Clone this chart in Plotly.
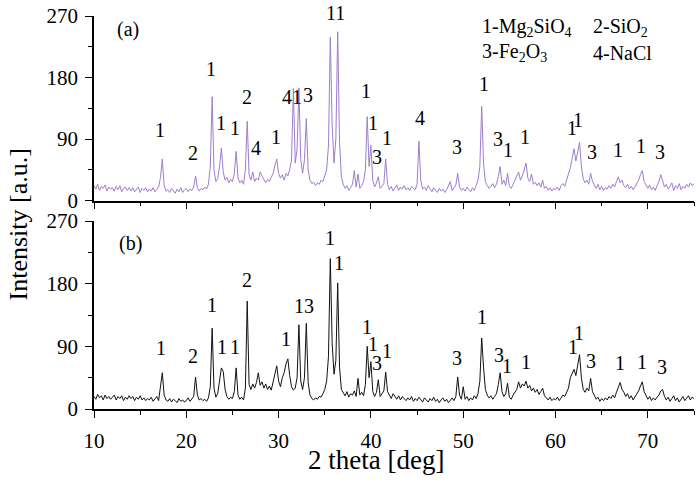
import plotly.graph_objects as go

# XRD scan grid: start 10 deg, step 0.2 deg (326 points up to 75 deg)
scan_start = 10.0
scan_step = 0.2

intensity_a = [
    22, 17, 24, 15, 21, 18, 23, 14, 20, 17,
    19, 14, 21, 16, 22, 13, 18, 20, 15, 19,
    14, 19, 13, 17, 20, 12, 18, 15, 19, 13,
    17, 14, 19, 13, 16, 20, 34, 61, 22, 14,
    16, 12, 18, 14, 11, 17, 13, 19, 12, 16,
    18, 13, 17, 15, 20, 36, 19, 14, 18, 16,
    20, 17, 24, 50, 152, 45, 28, 32, 50, 77,
    42, 30, 34, 26, 31, 28, 40, 72, 33, 26,
    30, 24, 45, 116, 38, 30, 42, 28, 33, 30,
    42, 36, 30, 26, 31, 28, 34, 40, 52, 61,
    40, 33, 38, 30, 40, 36, 45, 60, 164, 55,
    75, 165, 60, 40, 60, 120, 45, 30, 25, 27,
    22, 26, 24, 30, 28, 35, 45, 80, 239, 110,
    55, 90, 247, 85, 35, 24, 18, 22, 15, 19,
    24, 44, 20, 39, 18, 22, 28, 45, 123, 50,
    81, 30, 20, 26, 35, 18, 22, 25, 61, 24,
    16, 21, 14, 19, 23, 15, 20, 17, 22, 16,
    19, 15, 21, 18, 16, 24, 87, 30, 17, 20,
    15, 22, 17, 13, 19, 16, 12, 18, 14, 17,
    12, 16, 21, 28, 15, 19, 23, 40, 20, 15,
    18, 14, 20, 16, 13, 19, 15, 22, 30, 50,
    138, 55, 28, 22, 18, 21, 25, 19, 24, 35,
    50, 24, 30, 22, 40, 21, 18, 24, 30, 35,
    42, 30, 36, 45, 55, 33, 28, 39, 24, 27,
    22, 26, 20, 30, 18, 21, 15, 19, 14, 18,
    16, 20, 15, 22, 25, 21, 30, 36, 48, 62,
    76, 58, 70, 85, 50, 32, 26, 30, 24, 40,
    28, 22, 18, 24, 16, 21, 15, 19, 17, 22,
    18, 24, 20, 28, 35, 26, 30, 22, 19, 24,
    17, 21, 16, 20, 25, 30, 38, 44, 28, 22,
    18, 23, 16, 20, 15, 22, 28, 38, 30, 20,
    24, 17, 21, 26, 15, 22, 18, 25, 16, 21,
    18, 24, 20, 26, 22, 25,
]

intensity_b = [
    18, 14, 21, 16, 19, 13, 20, 15, 18, 14,
    17, 20, 13, 18, 15, 19, 12, 17, 14, 19,
    15, 18, 12, 17, 14, 19, 13, 16, 12, 15,
    13, 17, 11, 15, 18, 12, 30, 52, 20, 13,
    11, 15, 10, 14, 12, 9, 15, 11, 13, 10,
    12, 16, 11, 14, 18, 46, 20, 13, 15, 12,
    14, 11, 16, 32, 116, 30, 17, 22, 40, 59,
    54, 28, 18, 14, 17, 15, 25, 59, 20, 14,
    17, 13, 30, 155, 35, 28, 36, 30, 38, 52,
    34, 39, 30, 36, 28, 33, 27, 38, 50, 62,
    40, 32, 45, 52, 65, 72, 48, 32, 27, 30,
    45, 121, 40, 28, 45, 123, 38, 20, 15, 13,
    16, 14, 18, 17, 22, 28, 40, 75, 216, 95,
    50, 70, 181, 60, 28, 23, 19, 25, 17, 22,
    20, 26, 18, 44, 20, 24, 19, 35, 90, 45,
    68, 25, 18, 24, 42, 18, 22, 26, 53, 25,
    20, 15, 22, 17, 14, 19, 13, 18, 15, 12,
    16, 13, 18, 11, 15, 12, 17, 14, 10, 16,
    13, 10, 15, 12, 17, 11, 14, 9, 13, 16,
    11, 14, 9, 13, 16, 12, 18, 46, 20, 14,
    32, 14, 18, 12, 16, 13, 19, 15, 22, 40,
    102, 60, 28, 20, 16, 19, 14, 18, 22, 35,
    52, 25, 18, 22, 37, 17, 14, 20, 24, 28,
    39, 30, 36, 33, 40, 30, 34, 26, 30, 24,
    28, 21, 25, 30, 19, 16, 13, 17, 12, 15,
    13, 17, 12, 16, 20, 18, 24, 30, 45, 52,
    57, 48, 65, 78, 45, 28, 24, 30, 26, 44,
    25, 18, 14, 17, 11, 15, 12, 16, 13, 18,
    15, 20, 16, 24, 30, 38, 28, 24, 18, 22,
    15, 19, 13, 17, 22, 26, 33, 39, 25, 18,
    14, 18, 12, 16, 13, 17, 20, 26, 28, 18,
    13, 17, 11, 15, 19, 12, 16, 10, 14, 18,
    12, 16, 19, 13, 17, 15,
]

two_theta = [round(scan_start + scan_step * i, 2) for i in range(len(intensity_a))]

# peak labels (phase index) for pattern (a)
label_a_text = ["1", "2", "1", "1", "1", "2", "4", "1", "41", "3", "11", "1", "1", "3", "1",
                "4", "3", "1", "3", "1", "1", "1", "1", "3", "1", "1", "3"]
label_a_x = [17.2, 20.7, 22.7, 23.8, 25.3, 26.6, 27.5, 29.7, 31.5, 33.2, 36.2, 39.5, 40.2, 40.7, 41.7,
             45.3, 49.3, 52.2, 53.8, 54.8, 56.7, 61.8, 62.4, 63.9, 66.8, 69.3, 71.3]
label_a_y = [104, 70, 192, 114, 106, 152, 77, 93, 152, 155, 274, 161, 114, 64, 92,
             121, 79, 171, 90, 74, 93, 106, 118, 71, 74, 80, 71]

# peak labels for pattern (b)
label_b_text = ["1", "2", "1", "1", "1", "2", "1", "13", "1", "1", "1", "1", "3", "1",
                "3", "1", "3", "1", "1", "1", "1", "3", "1", "1", "3"]
label_b_x = [17.3, 20.7, 22.8, 23.9, 25.3, 26.6, 30.8, 32.8, 35.6, 36.5, 39.6, 40.2, 40.7, 41.7,
             49.3, 52.0, 53.9, 54.7, 56.8, 61.9, 62.5, 63.8, 67.0, 69.4, 71.5]
label_b_y = [88, 76, 149, 89, 89, 185, 100, 148, 246, 210, 118, 93, 66, 83,
             73, 132, 78, 62, 68, 89, 109, 69, 66, 68, 61]

phase_legend = ["1-Mg<sub>2</sub>SiO<sub>4</sub>", "2-SiO<sub>2</sub>",
                "3-Fe<sub>2</sub>O<sub>3</sub>", "4-NaCl"]

y_ticks = [0, 90, 180, 270]
y_max = 270

FONT = "Liberation Serif"
W, H = 697, 485
ML, MR, MT, MB = 94, 3, 16, 76
plot_w = W - ML - MR
plot_h = H - MT - MB

fig = go.Figure()
fig.add_trace(go.Scatter(x=two_theta, y=intensity_a, mode="lines",
                         line=dict(color="#9c7ecb", width=1), xaxis="x", yaxis="y",
                         showlegend=False))
fig.add_trace(go.Scatter(x=two_theta, y=intensity_b, mode="lines",
                         line=dict(color="#111111", width=1), xaxis="x2", yaxis="y2",
                         showlegend=False))

tickfont = dict(family=FONT, size=21, color="black")
xcommon = dict(range=[10, 75], dtick=10, tick0=10, ticks="outside", ticklen=7, tickwidth=1.3,
               showline=True, linecolor="black", linewidth=1.5, showgrid=False, zeroline=False,
               tickcolor="black", tickfont=tickfont, automargin=False,
               minor=dict(dtick=5, tick0=10, ticks="outside", ticklen=4, tickcolor="black",
                          tickwidth=1.2, showgrid=False))
ycommon = dict(range=[0, y_max], tickvals=y_ticks, ticks="outside", ticklen=7, tickwidth=1.3,
               showline=True, linecolor="black", linewidth=1.5, showgrid=False, zeroline=False,
               tickcolor="black", tickfont=tickfont, ticklabelstandoff=3, automargin=False,
               minor=dict(tickvals=[45, 135, 225], ticks="outside", ticklen=4,
                          tickcolor="black", tickwidth=1.2, showgrid=False))

top_dom = [(409 - 200.7) / plot_h, 1.0]
bot_dom = [0.0, (409 - 221) / plot_h]
top_px_per_unit = (200.7 - 16) / y_max

fig.update_layout(
    width=W, height=H,
    margin=dict(l=ML, r=MR, t=MT, b=MB, autoexpand=False),
    paper_bgcolor="white", plot_bgcolor="white",
    xaxis=dict(xcommon, anchor="y", showticklabels=False),
    yaxis=dict(ycommon, domain=top_dom, anchor="x"),
    xaxis2=dict(xcommon, anchor="y2", ticklabelstandoff=5),
    yaxis2=dict(ycommon, domain=bot_dom, anchor="x2"),
)

ann = []
lab_font = dict(family=FONT, size=20, color="black")
for t, x, y in zip(label_a_text, label_a_x, label_a_y):
    shift = 0
    if y > y_max:
        shift = (y - y_max) * top_px_per_unit
        y = y_max
    ann.append(dict(text=t, x=x, y=y, xref="x", yref="y", showarrow=False, font=lab_font,
                    xanchor="center", yanchor="middle", yshift=shift))
for t, x, y in zip(label_b_text, label_b_x, label_b_y):
    ann.append(dict(text=t, x=x, y=y, xref="x2", yref="y2", showarrow=False, font=lab_font,
                    xanchor="center", yanchor="middle"))
ann.append(dict(text="(a)", x=13.7, y=250, xref="x", yref="y", showarrow=False, font=lab_font))
ann.append(dict(text="(b)", x=13.9, y=238, xref="x2", yref="y2", showarrow=False, font=lab_font))

# phase legend text
leg_pos = [(51.8, 253), (63.8, 253), (51.8, 216), (63.8, 216)]
for t, (x, y) in zip(phase_legend, leg_pos):
    ann.append(dict(text=t, x=x, y=y, xref="x", yref="y", showarrow=False, font=lab_font,
                    xanchor="left", yanchor="middle"))

# axis titles
ann.append(dict(text="Intensity [a.u.]", textangle=-90, x=(18 - ML) / plot_w,
                y=(409 - 224.5) / plot_h, xref="paper", yref="paper", showarrow=False,
                font=dict(family=FONT, size=26, color="black"), xanchor="center", yanchor="middle"))
ann.append(dict(text="2 theta [deg]", x=(376 - ML) / plot_w, y=(409 - 460) / plot_h,
                xref="paper", yref="paper", showarrow=False,
                font=dict(family=FONT, size=27, color="black"), xanchor="center", yanchor="middle"))

fig.update_layout(annotations=ann)
fig.write_html("out.html", config={"displayModeBar": False},
               post_script="document.body.style.margin='0';document.body.style.overflow='hidden';")
